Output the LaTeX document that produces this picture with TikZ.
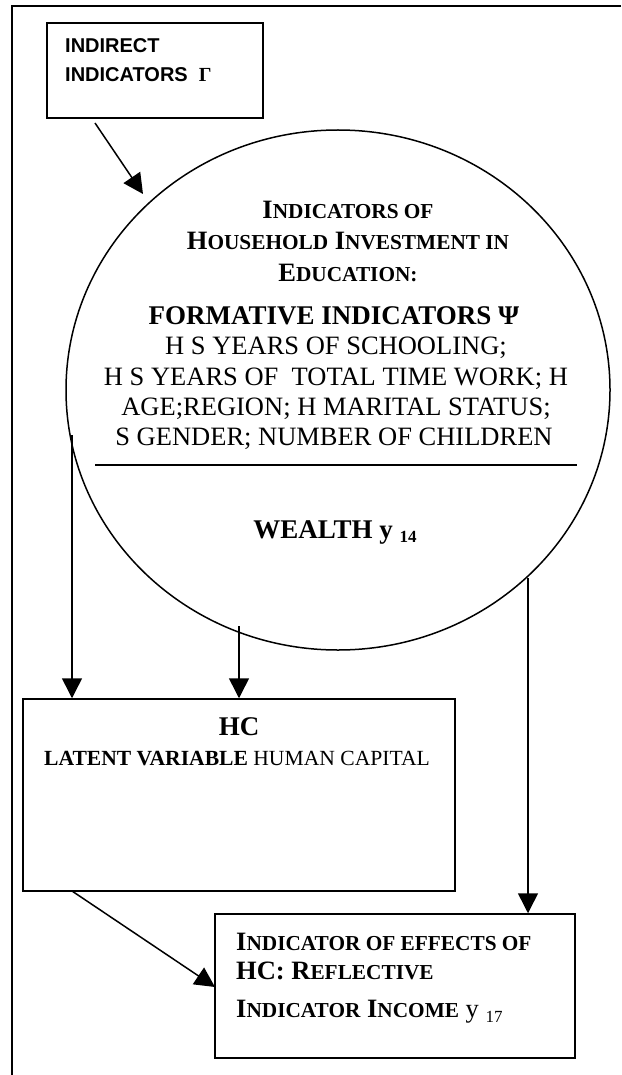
\documentclass[tikz,border=0pt]{standalone}
\usepackage{fontspec}
\setmainfont{Liberation Serif}
\newfontfamily\arialf{Liberation Sans}
\usetikzlibrary{shapes.geometric,arrows.meta}
\newcommand\fsz[1]{\fontsize{#1}{#1}\selectfont}
\newcommand\smc[1]{{\fontsize{21.3}{21.3}\selectfont #1}}
\begin{document}
\begin{tikzpicture}[x=1pt,y=-1pt,
  ln/.style={line width=1.5pt},
  box/.style={draw,ln,inner sep=0pt},
  arr/.style={ln,-{Triangle[length=20pt,width=20pt]}},
  txt/.style={inner sep=0pt,anchor=base},
  frameline/.style={line width=1.2pt}]
\useasboundingbox (0,0) rectangle (621,1075);
% partial frame
\coordinate (f1) at (12,6);
\coordinate (f2) at (621,6);
\coordinate (f3) at (12,1075);
\draw[frameline] (f2) -- (f1) -- (f3);
% top box
\node[box,minimum width=216pt,minimum height=95pt] (topbox) at (155,70.5) {};
\node[txt,anchor=base west,font=\arialf\bfseries\fsz{20}] (t1) at (65,53) {INDIRECT};
\node[txt,anchor=base west,font=\arialf\bfseries\fsz{20}] (t2) at (65,82) {INDICATORS\ \ {\rmfamily Γ}};
% oval
\node[draw,ln,ellipse,minimum width=544pt,minimum height=520pt,inner sep=0pt] (oval) at (338,390) {};
\node[txt,font=\bfseries\fsz{26.5}] (h1) at (348,219) {I\smc{NDICATORS OF}};
\node[txt,font=\bfseries\fsz{26.5}] (h2) at (348,250) {H\smc{OUSEHOLD} I\smc{NVESTMENT IN}};
\node[txt,font=\bfseries\fsz{26.5}] (h3) at (348,281) {E\smc{DUCATION:}};
\node[txt,font=\bfseries\fsz{27}] (h4) at (334,324) {FORMATIVE INDICATORS Ψ};
\node[txt,font=\fsz{26.5}] (r1) at (336,354) {H S YEARS OF SCHOOLING;};
\node[txt,font=\fsz{26.5}] (r2) at (336,385) {H S YEARS OF\ \ TOTAL TIME WORK; H};
\node[txt,font=\fsz{26.5}] (r3) at (336,415) {AGE;REGION; H MARITAL STATUS;};
\node[txt,font=\fsz{26.5}] (r4) at (334,445) {S GENDER; NUMBER OF CHILDREN};
\coordinate (d1) at (95,465);
\coordinate (d2) at (577,465);
\draw[ln] (d1) -- (d2);
\node[txt,font=\bfseries\fsz{27}] (w) at (335,538) {WEALTH y {\fsz{17}\raisebox{-4pt}{14}}};
% HC box
\node[box,minimum width=432pt,minimum height=192pt] (hc) at (239,795) {};
\node[txt,font=\bfseries\fsz{27}] (hct) at (239,735) {HC};
\node[txt,font=\fsz{21.6}] (hcl) at (237,765) {\textbf{LATENT VARIABLE} HUMAN CAPITAL};
% result box
\node[box,minimum width=360pt,minimum height=144pt] (res) at (395,986) {};
\node[txt,anchor=base west,font=\bfseries\fsz{26.5}] (e1) at (236,950) {I\smc{NDICATOR OF EFFECTS OF}};
\node[txt,anchor=base west,font=\bfseries\fsz{26.5}] (e2) at (236,979) {HC: R\smc{EFLECTIVE}};
\node[txt,anchor=base west,font=\bfseries\fsz{26.5}] (e3) at (236,1017) {I\smc{NDICATOR} I\smc{NCOME} {\mdseries y {\fsz{17}\raisebox{-5pt}{17}}}};
% connectors
\coordinate (a1s) at (95,123);
\coordinate (a1e) at (143,194);
\coordinate (a2s) at (72,435);
\coordinate (a3s) at (239,626);
\coordinate (a4s) at (528,578);
\coordinate (a5s) at (72,891);
\coordinate (a5e) at (215,987);
\draw[arr] (a1s) -- (a1e);
\draw[arr] (a2s) -- (a2s |- hc.north);
\draw[arr] (a3s) -- (a3s |- hc.north);
\draw[arr] (a4s) -- (a4s |- res.north);
\draw[arr] (a5s) -- (a5e);
\end{tikzpicture}
\end{document}
